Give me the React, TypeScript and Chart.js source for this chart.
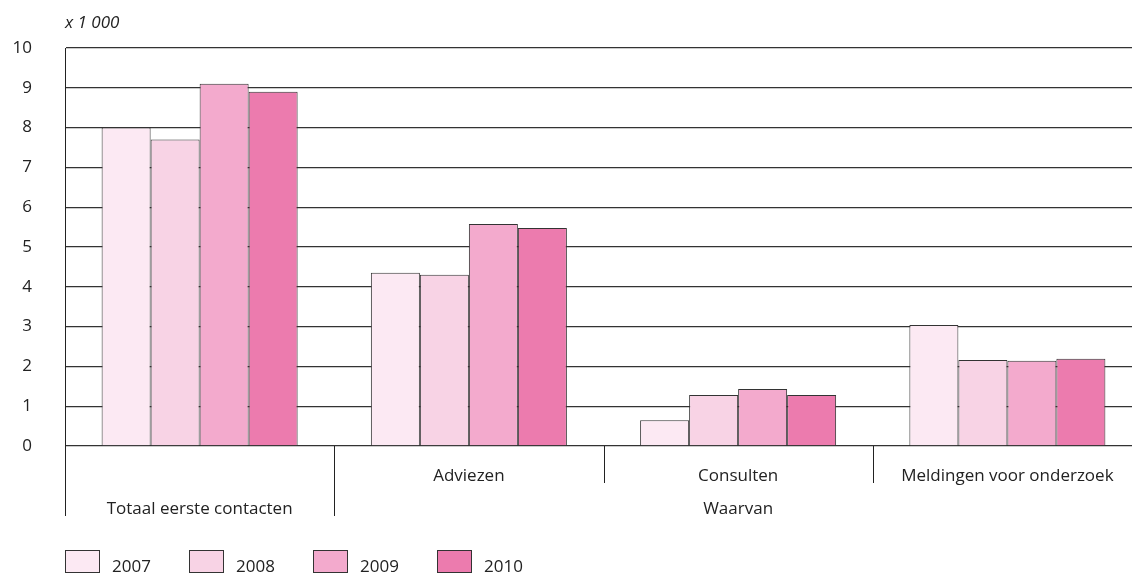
import React, { useEffect, useRef } from "react";
import { Chart, registerables } from "chart.js";

Chart.register(...registerables);

const categories = ["Totaal eerste contacten", "Adviezen", "Consulten", "Meldingen voor onderzoek"];
const categoryRows = [2, 1, 1, 1];
const groupLabel = "Waarvan";
const years = ["2007", "2008", "2009", "2010"];
const values2007 = [8.0, 4.35, 0.65, 3.04];
const values2008 = [7.7, 4.3, 1.28, 2.16];
const values2009 = [9.1, 5.58, 1.43, 2.14];
const values2010 = [8.9, 5.48, 1.28, 2.19];
const colors = ["#FCE9F3", "#F8D3E5", "#F3AACD", "#EC7BAE"];
const unitLabel = "x 1 000";
const FONT = "'Open Sans', sans-serif";
const CW = 1142;

export default function App() {
  const ref = useRef<HTMLCanvasElement>(null);
  useEffect(() => {
    if (!ref.current) return;
    const series = [values2007, values2008, values2009, values2010];
    const overlay = {
      id: "overlay",
      afterDraw(chart: any) {
        const ctx = chart.ctx;
        const x = chart.scales.x;
        const area = chart.chartArea;
        const step = x.getPixelForValue(1) - x.getPixelForValue(0);
        ctx.save();
        ctx.strokeStyle = "#222";
        ctx.lineWidth = 1;
        for (let i = 0; i < categories.length; i++) {
          const left = Math.round(x.getPixelForValue(i) - step / 2) + 0.5;
          const bottom = i <= 1 ? area.bottom + 70 : area.bottom + 37;
          ctx.beginPath();
          ctx.moveTo(left, area.bottom);
          ctx.lineTo(left, bottom);
          ctx.stroke();
        }
        ctx.fillStyle = "#222";
        ctx.font = `17px ${FONT}`;
        ctx.textAlign = "center";
        ctx.textBaseline = "middle";
        categories.forEach((c, i) => {
          const cx = x.getPixelForValue(i);
          const y = categoryRows[i] === 1 ? area.bottom + 30 : area.bottom + 63;
          ctx.fillText(c, cx, y);
        });
        const gx = (x.getPixelForValue(1) + x.getPixelForValue(3)) / 2;
        ctx.fillText(groupLabel, gx, area.bottom + 63);
        ctx.font = `italic 17px ${FONT}`;
        ctx.textAlign = "left";
        ctx.fillText(unitLabel, 65, 23);
        ctx.font = `17px ${FONT}`;
        ctx.textBaseline = "alphabetic";
        years.forEach((yr, i) => {
          const bx = 65 + i * 124;
          ctx.fillStyle = colors[i];
          ctx.fillRect(bx, 550, 34, 22);
          ctx.strokeStyle = "#333";
          ctx.strokeRect(bx + 0.5, 550.5, 34, 22);
          ctx.fillStyle = "#222";
          ctx.fillText(yr, bx + 47, 572);
        });
        ctx.restore();
      },
    };
    const chart = new Chart(ref.current, {
      type: "bar",
      data: {
        labels: categories,
        datasets: years.map((yr, i) => ({
          label: yr,
          data: series[i],
          backgroundColor: colors[i],
          borderColor: "#333",
          borderWidth: 1,
          categoryPercentage: 0.728,
          barPercentage: 1,
        })),
      },
      options: {
        animation: false,
        responsive: false,
        layout: { padding: { top: 48, right: 0, left: 0, bottom: 0 } },
        plugins: { legend: { display: false }, tooltip: { enabled: false } },
        scales: {
          x: {
            ticks: { display: false },
            grid: { display: false },
            border: { display: false },
            afterFit: (s: any) => { s.height = 574 - 446; },
          },
          y: {
            min: 0,
            max: 10,
            ticks: { stepSize: 1, padding: 33, color: "#222", font: { family: FONT, size: 17 } },
            grid: { color: "#333", lineWidth: 1.3, drawTicks: false },
            border: { display: true, color: "#222", width: 1 },
            afterFit: (s: any) => { s.width = 65; },
          },
        },
      },
      plugins: [overlay],
    });
    return () => chart.destroy();
  }, []);
  return (
    <div style={{ position: "fixed", left: 0, top: 0, width: 1132, height: 574, background: "#fff", overflow: "hidden" }}>
      <canvas ref={ref} width={CW} height={574} style={{ width: CW, height: 574, display: "block" }} />
    </div>
  );
}
